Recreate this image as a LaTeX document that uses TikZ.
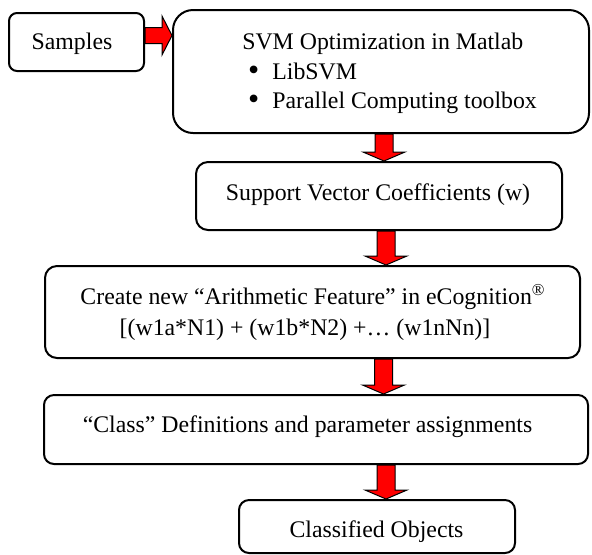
\documentclass[tikz,border=0pt]{standalone}
\usepackage{fontspec}
\setmainfont{Liberation Serif}
\usetikzlibrary{calc}
\newcommand\vblock[3]{%
  \coordinate (vt) at (#1,0 |- #2.south);
  \coordinate (vb) at (#1,0 |- #3.north);
  \draw[blockarrow] ($(vt)+(-9,0)$) -- ($(vb)+(-9,-9)$) -- ($(vb)+(-21,-9)$) -- (vb)
     -- ($(vb)+(21,-9)$) -- ($(vb)+(9,-9)$) -- ($(vt)+(9,0)$) -- cycle;}
\newcommand\bigbul{\makebox[4.2pt][c]{\raisebox{-0.6pt}{\fontsize{16}{16}\selectfont\textbullet}}}
\begin{document}
\begin{tikzpicture}[x=0.5pt,y=-0.5pt,
  box/.style={draw, line width=1pt, rounded corners=#1, inner sep=0pt},
  box/.default=6pt,
  txt/.style={inner sep=0pt, font=\fontsize{11.9}{14}\selectfont},
  blockarrow/.style={draw=black, fill=red, line width=0.5pt, line join=miter}]
\useasboundingbox (0,0) rectangle (592,554);

% boxes
\node[box=4pt, minimum width=67.5pt, minimum height=29pt] (samples) at (76.5,42) {};
\node[box=10pt, minimum width=208pt, minimum height=61.5pt] (svm) at (381,71.5) {};
\node[box=6pt, minimum width=183pt, minimum height=34pt] (sv) at (379,196) {};
\node[box=6pt, minimum width=267.5pt, minimum height=46pt] (arith) at (312.5,312) {};
\node[box=5pt, minimum width=272pt, minimum height=34.5pt] (class) at (316,429.5) {};
\node[box=5pt, minimum width=138pt, minimum height=26.5pt] (objs) at (377,526.5) {};

% texts
\node[txt, anchor=base] (samplesT) at (72,49) {Samples};
\node[txt, anchor=base] (svmT) at (382.8,49) {SVM Optimization in Matlab};
\node[txt, anchor=base west] (svmB1) at (249,79) {\bigbul\hspace{7.3pt}LibSVM};
\node[txt, anchor=base west] (svmB2) at (249,108) {\bigbul\hspace{7.3pt}Parallel Computing toolbox};
\node[txt, anchor=base] (svT) at (378,200) {Support Vector Coefficients (w)};
\node[txt, anchor=base] (arithT1) at (313,304) {Create new “Arithmetic Feature” in eCognition\textsuperscript{®}};
\node[txt, anchor=base] (arithT2) at (305,335) {[(w1a*N1) + (w1b*N2) +… (w1nNn)]};
\node[txt, anchor=base] (classT) at (307.5,432) {“Class” Definitions and parameter assignments};
\node[txt, anchor=base] (objsT) at (376.5,537) {Classified Objects};

% horizontal arrow
\coordinate (h0) at (samples.east |- 0,35.5);
\coordinate (h1) at (svm.west |- 0,35.5);
\draw[blockarrow] ($(h0)+(0,-8)$) -- ($(h1)+(-10,-8)$) -- ($(h1)+(-10,-19.5)$) -- (h1)
   -- ($(h1)+(-10,19.5)$) -- ($(h1)+(-10,8)$) -- ($(h0)+(0,8)$) -- cycle;

% vertical arrows
\vblock{384}{svm}{sv}
\vblock{386}{sv}{arith}
\vblock{383.5}{arith}{class}
\vblock{386}{class}{objs}
\end{tikzpicture}
\end{document}
